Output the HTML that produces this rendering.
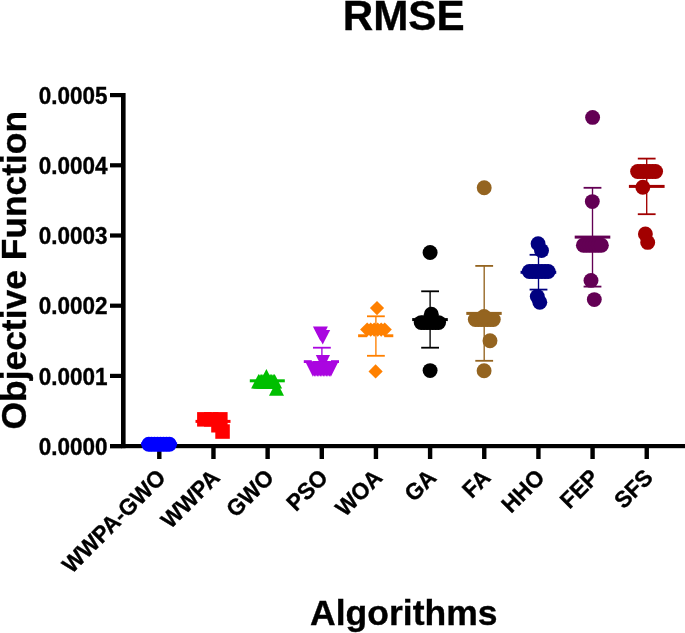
<!DOCTYPE html>
<html><head><meta charset="utf-8"><style>
html,body{margin:0;padding:0;background:#fff;}
body{width:685px;height:633px;overflow:hidden;}
svg{display:block;font-family:"Liberation Sans", sans-serif;}
text{stroke:#000;stroke-width:0.35px;paint-order:stroke;}
svg{will-change:transform;}
</style></head><body>
<svg width="685" height="633" viewBox="0 0 685 633">
<rect width="685" height="633" fill="#fff"/>
<text transform="translate(403.6,30.1) scale(1,1.0)" font-size="42.2" font-weight="bold" text-anchor="middle">RMSE</text>
<text transform="translate(25.8,270.2) rotate(-90) scale(1,1.0)" font-size="35.4" font-weight="bold" text-anchor="middle">Objective Function</text>
<text transform="translate(403.8,625.1) scale(1,1.0)" font-size="35.5" font-weight="bold" text-anchor="middle">Algorithms</text>
<rect x="121" y="93" width="4.6" height="355.2" fill="#000"/>
<rect x="110" y="444" width="575" height="4.2" fill="#000"/>
<rect x="110" y="444" width="12" height="4.2" fill="#000"/>
<text transform="translate(107.5,454.7) scale(1,1.05)" font-size="22.5" font-weight="bold" text-anchor="end">0.0000</text>
<rect x="110" y="373.8" width="12" height="4.2" fill="#000"/>
<text transform="translate(107.5,384.5) scale(1,1.05)" font-size="22.5" font-weight="bold" text-anchor="end">0.0001</text>
<rect x="110" y="303.6" width="12" height="4.2" fill="#000"/>
<text transform="translate(107.5,314.3) scale(1,1.05)" font-size="22.5" font-weight="bold" text-anchor="end">0.0002</text>
<rect x="110" y="233.4" width="12" height="4.2" fill="#000"/>
<text transform="translate(107.5,244.1) scale(1,1.05)" font-size="22.5" font-weight="bold" text-anchor="end">0.0003</text>
<rect x="110" y="163.2" width="12" height="4.2" fill="#000"/>
<text transform="translate(107.5,173.9) scale(1,1.05)" font-size="22.5" font-weight="bold" text-anchor="end">0.0004</text>
<rect x="110" y="93" width="12" height="4.2" fill="#000"/>
<text transform="translate(107.5,103.7) scale(1,1.05)" font-size="22.5" font-weight="bold" text-anchor="end">0.0005</text>
<rect x="157.1" y="446" width="4.4" height="13" fill="#000"/>
<text transform="translate(166.9,479) rotate(-45) scale(1,1.04)" font-size="22.3" font-weight="bold" text-anchor="end">WWPA-GWO</text>
<rect x="211.26" y="446" width="4.4" height="13" fill="#000"/>
<text transform="translate(221.06,479) rotate(-45) scale(1,1.04)" font-size="22.3" font-weight="bold" text-anchor="end">WWPA</text>
<rect x="265.42" y="446" width="4.4" height="13" fill="#000"/>
<text transform="translate(275.22,479) rotate(-45) scale(1,1.04)" font-size="22.3" font-weight="bold" text-anchor="end">GWO</text>
<rect x="319.58" y="446" width="4.4" height="13" fill="#000"/>
<text transform="translate(329.38,479) rotate(-45) scale(1,1.04)" font-size="22.3" font-weight="bold" text-anchor="end">PSO</text>
<rect x="373.74" y="446" width="4.4" height="13" fill="#000"/>
<text transform="translate(383.54,479) rotate(-45) scale(1,1.04)" font-size="22.3" font-weight="bold" text-anchor="end">WOA</text>
<rect x="427.9" y="446" width="4.4" height="13" fill="#000"/>
<text transform="translate(437.7,479) rotate(-45) scale(1,1.04)" font-size="22.3" font-weight="bold" text-anchor="end">GA</text>
<rect x="482.06" y="446" width="4.4" height="13" fill="#000"/>
<text transform="translate(491.86,479) rotate(-45) scale(1,1.04)" font-size="22.3" font-weight="bold" text-anchor="end">FA</text>
<rect x="536.22" y="446" width="4.4" height="13" fill="#000"/>
<text transform="translate(546.02,479) rotate(-45) scale(1,1.04)" font-size="22.3" font-weight="bold" text-anchor="end">HHO</text>
<rect x="590.38" y="446" width="4.4" height="13" fill="#000"/>
<text transform="translate(600.18,479) rotate(-45) scale(1,1.04)" font-size="22.3" font-weight="bold" text-anchor="end">FEP</text>
<rect x="644.54" y="446" width="4.4" height="13" fill="#000"/>
<text transform="translate(654.34,479) rotate(-45) scale(1,1.04)" font-size="22.3" font-weight="bold" text-anchor="end">SFS</text>
<circle cx="148.8" cy="444.2" r="7.45" fill="#0000ff"/>
<circle cx="151.5" cy="444.2" r="7.45" fill="#0000ff"/>
<circle cx="154.5" cy="444.2" r="7.45" fill="#0000ff"/>
<circle cx="157.5" cy="444.2" r="7.45" fill="#0000ff"/>
<circle cx="160.5" cy="444.2" r="7.45" fill="#0000ff"/>
<circle cx="163.5" cy="444.2" r="7.45" fill="#0000ff"/>
<circle cx="166.5" cy="444.2" r="7.45" fill="#0000ff"/>
<circle cx="169.4" cy="444.2" r="7.45" fill="#0000ff"/>
<rect x="141.1" y="442.3" width="36" height="3" fill="#0000ff"/>
<rect x="197.1" y="412.1" width="14.5" height="14.5" fill="#ff0000"/>
<rect x="204" y="412.1" width="14.5" height="14.5" fill="#ff0000"/>
<rect x="213.1" y="412.1" width="14.5" height="14.5" fill="#ff0000"/>
<rect x="211.2" y="418" width="14.5" height="14.5" fill="#ff0000"/>
<rect x="215.3" y="424.3" width="14.5" height="14.5" fill="#ff0000"/>
<rect x="195.5" y="419.9" width="35" height="3" fill="#ff0000"/>
<polygon points="258.6,373.9 251.1,388.4 266.1,388.4" fill="#00bf00"/>
<polygon points="260.06,373.9 252.56,388.4 267.56,388.4" fill="#00bf00"/>
<polygon points="261.51,373.9 254.01,388.4 269.01,388.4" fill="#00bf00"/>
<polygon points="262.97,373.9 255.47,388.4 270.47,388.4" fill="#00bf00"/>
<polygon points="264.42,373.9 256.92,388.4 271.92,388.4" fill="#00bf00"/>
<polygon points="265.88,373.9 258.38,388.4 273.38,388.4" fill="#00bf00"/>
<polygon points="267.33,373.9 259.83,388.4 274.83,388.4" fill="#00bf00"/>
<polygon points="268.79,373.9 261.29,388.4 276.29,388.4" fill="#00bf00"/>
<polygon points="270.24,373.9 262.74,388.4 277.74,388.4" fill="#00bf00"/>
<polygon points="271.7,373.9 264.2,388.4 279.2,388.4" fill="#00bf00"/>
<polygon points="273.15,373.9 265.65,388.4 280.65,388.4" fill="#00bf00"/>
<polygon points="274.61,373.9 267.11,388.4 282.11,388.4" fill="#00bf00"/>
<polygon points="266.4,369.1 258.9,383.6 273.9,383.6" fill="#00bf00"/>
<polygon points="276.5,381.3 269,395.8 284,395.8" fill="#00bf00"/>
<rect x="249.8" y="379.3" width="35" height="3" fill="#00bf00"/>
<rect x="321.22" y="347.7" width="1.35" height="14.3" fill="#aa06e0"/>
<rect x="313" y="346.8" width="17.8" height="1.8" fill="#aa06e0"/>
<rect x="313" y="361.1" width="17.8" height="1.8" fill="#aa06e0"/>
<polygon points="312.9,326.4 327.9,326.4 320.4,340.9" fill="#aa06e0"/>
<polygon points="315.2,330.1 330.2,330.1 322.7,344.6" fill="#aa06e0"/>
<polygon points="315.8,355 330,355 322.9,369.5" fill="#aa06e0"/>
<rect x="303.8" y="360.2" width="8" height="2.8" fill="#aa06e0"/>
<rect x="331" y="360.2" width="8" height="2.8" fill="#aa06e0"/>
<polygon points="305.4,361.8 320.4,361.8 312.9,376.8" fill="#aa06e0"/>
<polygon points="306.9,361.8 321.9,361.8 314.4,376.8" fill="#aa06e0"/>
<polygon points="308.4,361.8 323.4,361.8 315.9,376.8" fill="#aa06e0"/>
<polygon points="309.9,361.8 324.9,361.8 317.4,376.8" fill="#aa06e0"/>
<polygon points="311.4,361.8 326.4,361.8 318.9,376.8" fill="#aa06e0"/>
<polygon points="312.9,361.8 327.9,361.8 320.4,376.8" fill="#aa06e0"/>
<polygon points="314.4,361.8 329.4,361.8 321.9,376.8" fill="#aa06e0"/>
<polygon points="315.9,361.8 330.9,361.8 323.4,376.8" fill="#aa06e0"/>
<polygon points="317.4,361.8 332.4,361.8 324.9,376.8" fill="#aa06e0"/>
<polygon points="318.9,361.8 333.9,361.8 326.4,376.8" fill="#aa06e0"/>
<polygon points="320.4,361.8 335.4,361.8 327.9,376.8" fill="#aa06e0"/>
<polygon points="321.9,361.8 336.9,361.8 329.4,376.8" fill="#aa06e0"/>
<polygon points="323.4,361.8 338.4,361.8 330.9,376.8" fill="#aa06e0"/>
<rect x="375.22" y="316.3" width="1.35" height="39.5" fill="#ff8000"/>
<rect x="367" y="315.4" width="17.8" height="1.8" fill="#ff8000"/>
<rect x="367" y="354.9" width="17.8" height="1.8" fill="#ff8000"/>
<polygon points="377,301 384.1,308.1 377,315.2 369.9,308.1" fill="#ff8000"/>
<rect x="358.1" y="334.3" width="9" height="2.9" fill="#ff8000"/>
<rect x="384.3" y="334.3" width="9" height="2.9" fill="#ff8000"/>
<polygon points="367.2,322.5 374.3,329.6 367.2,336.7 360.1,329.6" fill="#ff8000"/>
<polygon points="370.7,322.5 377.8,329.6 370.7,336.7 363.6,329.6" fill="#ff8000"/>
<polygon points="374.2,322.5 381.3,329.6 374.2,336.7 367.1,329.6" fill="#ff8000"/>
<polygon points="377.7,322.5 384.8,329.6 377.7,336.7 370.6,329.6" fill="#ff8000"/>
<polygon points="381.2,322.5 388.3,329.6 381.2,336.7 374.1,329.6" fill="#ff8000"/>
<polygon points="384.7,322.5 391.8,329.6 384.7,336.7 377.6,329.6" fill="#ff8000"/>
<polygon points="375.6,364.3 382.7,371.4 375.6,378.5 368.5,371.4" fill="#ff8000"/>
<rect x="429.43" y="291.3" width="1.35" height="56.4" fill="#000000"/>
<rect x="421.2" y="290.4" width="17.8" height="1.8" fill="#000000"/>
<rect x="421.2" y="346.8" width="17.8" height="1.8" fill="#000000"/>
<circle cx="430.1" cy="252.5" r="7.45" fill="#000000"/>
<circle cx="421.2" cy="322.6" r="7.45" fill="#000000"/>
<circle cx="424.1" cy="322.6" r="7.45" fill="#000000"/>
<circle cx="427" cy="322.6" r="7.45" fill="#000000"/>
<circle cx="429.9" cy="322.6" r="7.45" fill="#000000"/>
<circle cx="432.8" cy="322.6" r="7.45" fill="#000000"/>
<circle cx="435.7" cy="322.6" r="7.45" fill="#000000"/>
<circle cx="438.6" cy="322.6" r="7.45" fill="#000000"/>
<circle cx="431.3" cy="314.3" r="7.45" fill="#000000"/>
<circle cx="430.1" cy="370.6" r="7.45" fill="#000000"/>
<rect x="412.2" y="318.1" width="35.6" height="3" fill="#000000"/>
<rect x="483.52" y="265.9" width="1.35" height="94.9" fill="#946420"/>
<rect x="475.3" y="265" width="17.8" height="1.8" fill="#946420"/>
<rect x="475.3" y="359.9" width="17.8" height="1.8" fill="#946420"/>
<circle cx="484.2" cy="187.7" r="7.45" fill="#946420"/>
<circle cx="475.3" cy="319.5" r="7.45" fill="#946420"/>
<circle cx="478.3" cy="319.5" r="7.45" fill="#946420"/>
<circle cx="481.3" cy="319.5" r="7.45" fill="#946420"/>
<circle cx="484.3" cy="319.5" r="7.45" fill="#946420"/>
<circle cx="487.3" cy="319.5" r="7.45" fill="#946420"/>
<circle cx="490.3" cy="319.5" r="7.45" fill="#946420"/>
<circle cx="493.3" cy="319.5" r="7.45" fill="#946420"/>
<circle cx="484" cy="316.4" r="7.45" fill="#946420"/>
<circle cx="490" cy="340.7" r="7.45" fill="#946420"/>
<circle cx="484.1" cy="370.7" r="7.45" fill="#946420"/>
<rect x="466.3" y="311.9" width="35.4" height="3" fill="#946420"/>
<rect x="537.83" y="254.8" width="1.35" height="34.8" fill="#000080"/>
<rect x="529.6" y="253.9" width="17.8" height="1.8" fill="#000080"/>
<rect x="529.6" y="288.7" width="17.8" height="1.8" fill="#000080"/>
<circle cx="538.1" cy="243.8" r="7.45" fill="#000080"/>
<circle cx="541.5" cy="250.6" r="7.45" fill="#000080"/>
<circle cx="529.3" cy="271.5" r="7.45" fill="#000080"/>
<circle cx="532.45" cy="271.5" r="7.45" fill="#000080"/>
<circle cx="535.6" cy="271.5" r="7.45" fill="#000080"/>
<circle cx="538.75" cy="271.5" r="7.45" fill="#000080"/>
<circle cx="541.9" cy="271.5" r="7.45" fill="#000080"/>
<circle cx="545.05" cy="271.5" r="7.45" fill="#000080"/>
<circle cx="548.2" cy="271.5" r="7.45" fill="#000080"/>
<circle cx="537.3" cy="296.5" r="7.45" fill="#000080"/>
<circle cx="539.8" cy="302.2" r="7.45" fill="#000080"/>
<rect x="520.55" y="270.8" width="35.7" height="3" fill="#000080"/>
<rect x="591.83" y="187.8" width="1.35" height="98.8" fill="#630054"/>
<rect x="583.6" y="186.9" width="17.8" height="1.8" fill="#630054"/>
<rect x="583.6" y="285.7" width="17.8" height="1.8" fill="#630054"/>
<circle cx="592.6" cy="117.4" r="7.45" fill="#630054"/>
<circle cx="592.3" cy="201.6" r="7.45" fill="#630054"/>
<circle cx="583.4" cy="245.3" r="7.45" fill="#630054"/>
<circle cx="586.4" cy="245.3" r="7.45" fill="#630054"/>
<circle cx="589.4" cy="245.3" r="7.45" fill="#630054"/>
<circle cx="592.4" cy="245.3" r="7.45" fill="#630054"/>
<circle cx="595.4" cy="245.3" r="7.45" fill="#630054"/>
<circle cx="598.4" cy="245.3" r="7.45" fill="#630054"/>
<circle cx="601.4" cy="245.3" r="7.45" fill="#630054"/>
<circle cx="591" cy="280.4" r="7.45" fill="#630054"/>
<circle cx="594.3" cy="299.6" r="7.45" fill="#630054"/>
<rect x="574.7" y="235.6" width="35.6" height="3" fill="#630054"/>
<rect x="646.03" y="158.6" width="1.35" height="55.6" fill="#a20000"/>
<rect x="637.8" y="157.7" width="17.8" height="1.8" fill="#a20000"/>
<rect x="637.8" y="213.3" width="17.8" height="1.8" fill="#a20000"/>
<circle cx="637.6" cy="171.5" r="7.45" fill="#a20000"/>
<circle cx="640.6" cy="171.5" r="7.45" fill="#a20000"/>
<circle cx="643.6" cy="171.5" r="7.45" fill="#a20000"/>
<circle cx="646.6" cy="171.5" r="7.45" fill="#a20000"/>
<circle cx="649.6" cy="171.5" r="7.45" fill="#a20000"/>
<circle cx="652.6" cy="171.5" r="7.45" fill="#a20000"/>
<circle cx="655.6" cy="171.5" r="7.45" fill="#a20000"/>
<circle cx="642.8" cy="187.3" r="7.45" fill="#a20000"/>
<circle cx="645.4" cy="234" r="7.45" fill="#a20000"/>
<circle cx="647.7" cy="242.4" r="7.45" fill="#a20000"/>
<rect x="628.9" y="184.9" width="35.7" height="3" fill="#a20000"/>
</svg>
</body></html>
